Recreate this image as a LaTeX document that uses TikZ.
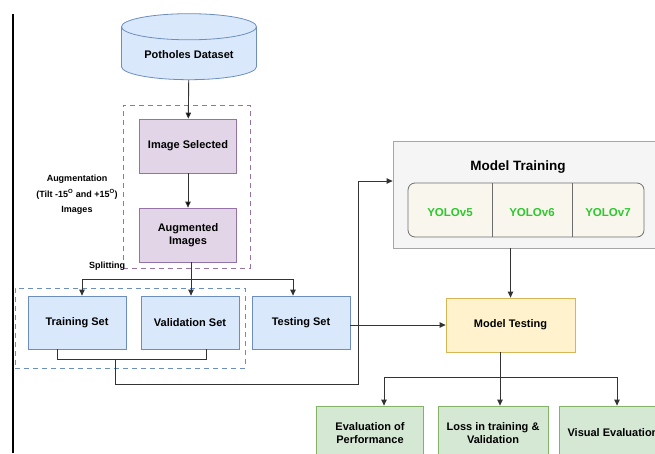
\documentclass[tikz,border=0pt]{standalone}
\usepackage{fontspec}
\setmainfont{Liberation Sans}
\usetikzlibrary{arrows.meta,positioning,calc,shapes.geometric}
\definecolor{blueF}{HTML}{DAE8FC}
\definecolor{blueD}{HTML}{6C8EBF}
\definecolor{purpF}{HTML}{E1D5E7}
\definecolor{purpD}{HTML}{9673A6}
\definecolor{grayF}{HTML}{F5F5F5}
\definecolor{grayD}{HTML}{A6A6A6}
\definecolor{innF}{HTML}{F9F7ED}
\definecolor{innD}{HTML}{6E6E6E}
\definecolor{yelF}{HTML}{FFF2CC}
\definecolor{yelD}{HTML}{D6B656}
\definecolor{grnF}{HTML}{D5E8D4}
\definecolor{grnD}{HTML}{82B366}
\definecolor{yolo}{HTML}{2DC82D}
\definecolor{lineC}{HTML}{333333}

\begin{document}
\begin{tikzpicture}[x=1pt, y=-1pt,
	font=\bfseries\fontsize{11}{13.5}\selectfont,
	box/.style={draw, align=center, line width=0.8pt, inner sep=2pt},
	bluebox/.style={box, fill=blueF, draw=blueD, minimum width=98pt, minimum height=53pt},
	purplebox/.style={box, fill=purpF, draw=purpD, minimum width=97pt, minimum height=54pt},
	greenbox/.style={box, fill=grnF, draw=grnD, minimum width=108pt, minimum height=54pt},
	group/.style={draw, dashed, dash pattern=on 5pt off 4pt, line width=1pt, inner sep=0pt},
	yolotext/.style={text=yolo, font=\bfseries\fontsize{11.5}{13}\selectfont},
	small/.style={align=center, font=\bfseries\fontsize{9}{15.5}\selectfont},
	flow/.style={->, draw=lineC, line width=0.9pt, >={Triangle[length=6pt,width=5.5pt]}},
	plain/.style={draw=lineC, line width=0.9pt}]
	
	\clip (0,0) rectangle (655,453);
	\draw[black, line width=1.2pt] (13,14) -- (13,453);
	
	\node[box, cylinder, shape border rotate=90, aspect=0.28, fill=blueF, draw=blueD,
		minimum width=135pt, minimum height=66pt] (A) at (189,55) {Potholes Dataset};
	\node[group, draw=purpD, minimum width=127pt, minimum height=163pt] (P) at (186.5,186.5) {};
	\node[purplebox] (B) at (188,146) {Image Selected};
	\node[purplebox] (C) at (188,235) {Augmented\\Images};
	\node[small] (L1) at (77,195) {Augmentation\\(Tilt -15\textsuperscript{O} and +15\textsuperscript{O})\\Images};
	\node[small] (L2) at (107,266) {Splitting};
	
	\node[group, draw=blueD, minimum width=230pt, minimum height=80pt] (Q) at (130,328) {};
	\node[bluebox] (D) at (77,322.5) {Training Set};
	\node[bluebox] (E) at (190,322.5) {Validation Set};
	\node[bluebox] (F) at (301,322.5) {Testing Set};
	
	\node[box, fill=grayF, draw=grayD, minimum width=300pt, minimum height=107pt] (H) at (543,194.5) {};
	\node[font=\bfseries\fontsize{13.5}{15}\selectfont] (H0) at (518,167) {Model Training};
	\node[box, fill=innF, draw=innD, rounded corners=7pt, minimum width=236pt, minimum height=54pt] (I) at (526,210) {};
	\draw[innD, line width=0.8pt] (492,183) -- (492,237);
	\draw[innD, line width=0.8pt] (572,183) -- (572,237);
	\node[yolotext] (Y5) at (450,213) {YOLOv5};
	\node[yolotext] (Y6) at (532,213) {YOLOv6};
	\node[yolotext] (Y7) at (608,213) {YOLOv7};
	
	\node[box, fill=yelF, draw=yelD, minimum width=129pt, minimum height=54pt] (M) at (510.5,325) {Model Testing};
	\node[greenbox, minimum width=107pt] (N1) at (370,433) {Evaluation of\\Performance};
	\node[greenbox, minimum width=110pt] (N2) at (493,433) {Loss in training \&\\Validation};
	\node[greenbox] (N3) at (613,433) {Visual Evaluation};
	
	\coordinate (S1) at (191,279);
	\coordinate (S2) at (500,377);
	\coordinate (G1) at (57,359);
	\coordinate (G2) at (206,359);
	\coordinate (G3) at (115,359);
	\coordinate (G4) at (358,384);
	\coordinate (G5) at (358,181);
	
	\path[flow] (A) edge (B);
	\path[flow] (B) edge (C);
	\draw[plain] (C.south -| S1) -- (S1);
	\draw[flow] (S1) -| ([xshift=5pt]D.north);
	\draw[flow] (S1) -- (E.north -| S1);
	\draw[flow] (S1) -| ([xshift=-8pt]F.north);
	
	\draw[plain] (D.south -| G1) -- (G1) -- (G2) -- (E.south -| G2);
	\draw[flow] (G3) |- (G4) -- (G5) -- (G5 -| H.west);
	
	\draw[flow] (M |- H.south) -- (M.north);
	\draw[flow] (F.east |- M) -- (M.west);
	
	\draw[plain] (M.south -| S2) -- (S2);
	\draw[flow] (S2) -| ([xshift=14pt]N1.north);
	\draw[flow] (S2) -- (N2.north -| S2);
	\draw[flow] (S2) -| ([xshift=4pt]N3.north);
	
\end{tikzpicture}
\end{document}
